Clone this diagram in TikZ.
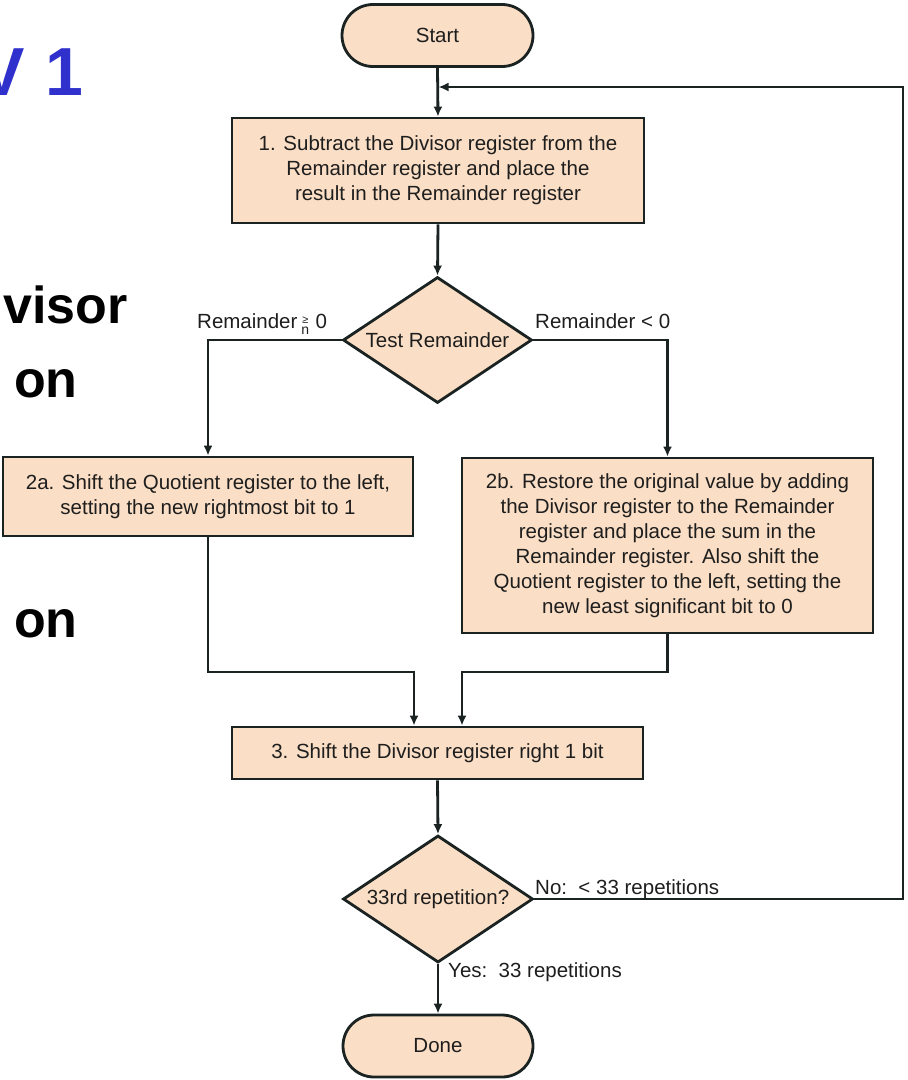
\documentclass[tikz,border=0pt]{standalone}
\usepackage{fontspec}
\setmainfont{Liberation Sans}
\usetikzlibrary{shapes.geometric,arrows.meta}

\definecolor{boxfill}{RGB}{250,222,197}
\definecolor{edge}{RGB}{26,34,34}
\definecolor{ink}{RGB}{30,30,30}
\definecolor{headline}{RGB}{48,48,204}

% "greater or equal" glyph stacked over a small n
\newcommand{\geqover}{\makebox[9pt]{\raisebox{5pt}{\fontsize{11}{11}\selectfont ≥}}\kern-9pt\makebox[9pt]{\raisebox{-6pt}{\fontsize{14}{14}\selectfont n}}}

\begin{document}
\begin{tikzpicture}[x=1pt,y=-1pt,
  every node/.style={font=\fontsize{20.5}{25}\selectfont, text=ink},
  proc/.style={draw=edge, line width=2.8pt, fill=boxfill, rectangle, inner sep=0pt, align=center},
  term/.style={proc, rounded corners=31pt},
  decision/.style={draw=edge, line width=2.8pt, fill=boxfill, diamond, inner sep=0pt},
  flow/.style={draw=edge, line width=2.8pt, -{Latex[length=10pt,width=9pt]}},
  lbl/.style={inner sep=0pt, anchor=base west},
  slide/.style={inner sep=0pt, anchor=base west, font=\fontsize{52}{52}\selectfont\bfseries, text=black}
]
\useasboundingbox (0,0) rectangle (908,1080);
\clip (0,0) rectangle (908,1080);

% slide text at the left edge
\node[slide, font=\fontsize{68}{68}\selectfont\bfseries, text=headline] (title) at (-21,95) {V\kern2pt\ 1};
\node[slide] (wvisor) at (3,323) {visor};
\node[slide] (won1) at (14,397) {on};
\node[slide] (won2) at (14,637) {on};

% flowchart blocks
\node[term, minimum width=191pt, minimum height=62pt] (start) at (437.5,35.5) {Start};
\node[proc, minimum width=412pt, minimum height=105pt] (s1) at (438,170.5)
  {1. Subtract the Divisor register from the\\Remainder register and place the\\result in the Remainder register};
\node[decision, minimum width=189pt, minimum height=126pt] (d1) at (437.5,340) {\makebox[0pt]{Test Remainder}};
\node[proc, minimum width=410pt, minimum height=79pt] (b2a) at (208,496.5)
  {2a. Shift the Quotient register to the left,\\setting the new rightmost bit to 1};
\node[proc, minimum width=411pt, minimum height=175pt] (b2b) at (667.5,545.5)
  {2b. Restore the original value by adding\\the Divisor register to the Remainder\\register and place the sum in the\\Remainder register. Also shift the\\Quotient register to the left, setting the\\new least significant bit to 0};
\node[proc, minimum width=411pt, minimum height=52pt] (s3) at (437.5,753) {3. Shift the Divisor register right 1 bit};
\node[decision, minimum width=190pt, minimum height=127pt] (d2) at (438,899) {\makebox[0pt]{33rd repetition?}};
\node[term, minimum width=190pt, minimum height=62pt] (done) at (438,1046) {Done};

% branch labels
\node[lbl] (lge) at (197,328) {Remainder\,\geqover\ 0};
\node[lbl] (llt) at (535,328) {Remainder < 0};
\node[lbl] (lno) at (535,894) {No:\ \ < 33 repetitions};
\node[lbl] (lyes) at (448,977) {Yes:\ \ 33 repetitions};

% junction and loop points
\coordinate (jl) at (414,672);
\coordinate (jr) at (462,672);
\coordinate (loopc) at (903,87);

% connectors
\draw[flow] (start.south) -- (s1.north);
\draw[flow] (s1.south) -- (d1.north);
\draw[flow] (d1.west) -| (b2a.north);
\draw[flow] (d1.east) -| (b2b.north);
\draw[flow] (b2a.south) |- (jl) -- (jl |- s3.north);
\draw[flow] (b2b.south) |- (jr) -- (jr |- s3.north);
\draw[flow] (s3.south) -- (d2.north);
\draw[flow] (d2.south) -- (done.north);
\draw[flow, shorten >=1pt] (d2.east) -| (loopc) -- (start.south |- loopc);
\end{tikzpicture}
\end{document}
